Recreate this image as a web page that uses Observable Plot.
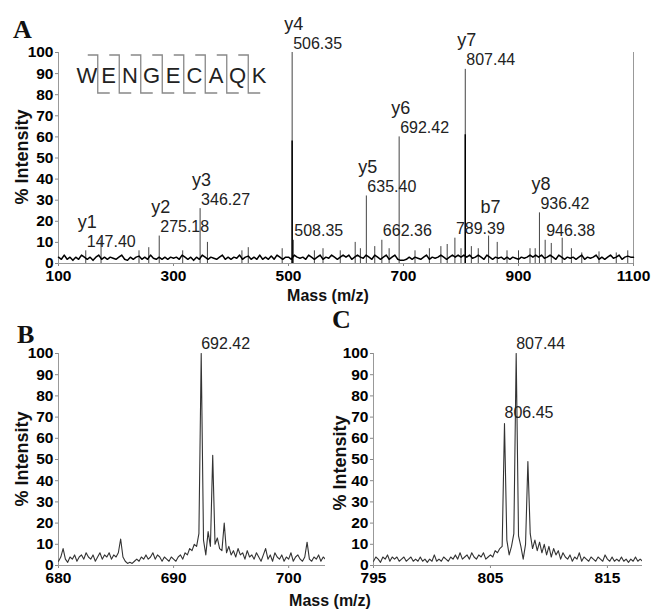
<!DOCTYPE html>
<html><head><meta charset="utf-8">
<script src="https://cdn.jsdelivr.net/npm/d3@7"></script>
<script src="https://cdn.jsdelivr.net/npm/@observablehq/plot@0.6"></script>
<style>
body{margin:0;background:#fff;}
#fig{position:relative;width:653px;height:610px;overflow:hidden;font-family:"Liberation Sans",Arial,sans-serif;}
#fig svg{position:absolute;}
</style></head><body><div id="fig"></div>
<script>
// ---------- Panel A: MS/MS spectrum ----------
const peptide = ["W","E","N","G","E","C","A","Q","K"];
const noiseStartA = 100, noiseStepA = 5;
const noiseA = [
 3,2,4,2,3,1.5,3,2,4,3,2,3,1.5,3,4,2,3,2,3,2.5,
 2,3,4,2,1.5,3,2,3,3.5,2,3,2,4,2.5,2,3,2,3,2,3,
 2.5,3,2,4,3,2,3,1.5,3,2,4,3,2,3,2.5,2,3,4,2,3,
 2,3,2.5,4,2,3,3.5,2,3,2,4,2,3,2,3.5,2,4,3,2,3,
 3,2,4,3,2.5,3,2,4,3,2,3,4,2,3,2.5,4,3,2,3,4,
 3,4,2,3,4,3,2.5,4,3,2,4,3,2,3,4,2,3,4,2,1.5,
 1.5,2,3,2,3,2.5,2,3,4,2,3,2.5,3,4,3,2,3,4,3,4,
 3,4,3,4,2.5,3,4,3,2,4,3,2,3,2.5,3,2,3,2,3,2.5,
 2,3,2.5,3,4,3,4,3,4,2.5,3,4,3,2,4,3,2,3,2.5,3,
 2,3,4,2,3,2.5,3,4,2,3,2,3,4,2.5,3,4,2,3,3.5,3,
 3
];
const peakMassA = [147.40,174,240,257,275.18,316,346.27,359,419,430,489,506.35,508.35,545,560,590,616,625,635.40,650,662.36,675,692.42,720,745,765,776,789.39,800,807.44,818,830,848,863,880,900,920,929,936.42,946.38,957,976,992,1010,1040,1070,1090];
const peakIntA  = [6,11,6,7.5,13,6,26,10,6,7.5,7,100,11,6,7,6,10,7,32,8,11,7,60,6,7,8,9,12,7,92,8,7,13,10,6,6,7,7,24,11,9.5,12,7,5,5.5,5,6];
const coreMassA = [506.35,807.44];
const coreIntA  = [58,61];
const massLabelsA = [147.40,275.18,346.27,506.35,508.35,635.40,662.36,692.42,789.39,807.44,936.42,946.38];
const ionNamesA = ["y1","y2","y3","y4","y5","y6","y7","b7","y8"];
const ionMassA  = [147.40,275.18,346.27,506.35,635.40,692.42,807.44,848,936.42];
const xDomainA = [100,1100];
const xTicksA = [100,300,500,700,900,1100];
const yTicks = [0,10,20,30,40,50,60,70,80,90,100];

// ---------- Panel B: zoom on 692.42 ----------
const startB = 680.0, stepB = 0.2;
const intB = [
 2,4,8,3,1.5,4,3,5,2,4,5,3,6,4,3,5,2,4,6,3,5,4,6,3,5,
 4,6,12.5,4,2, 1,1.5,1,2,3, 2,4,3,5,3, 4,6,3,5,4, 2,4,3,2,4,
 3,2,4,5,3, 6,5,8,7,10, 9,15,100,12,5, 16,9,52,10,13, 8,7,20,6,9,
 5,7,4,8,5, 6,3,7,4,5, 3,6,4,2,5, 8,3,5,2,6, 4,3,5,2,4,
 3,6,2,4,5, 3,2,4,11,3, 2,4,3,5,2, 4,3
];
const labelB = [692.42];
const xDomainB = [680,703.2];
const xTicksB = [680,690,700];

// ---------- Panel C: zoom on 807.44 ----------
const startC = 795.0, stepC = 0.2;
const intC = [
 2,4,3,1.5,4, 3,5,2,4,3, 4,2,3,4,2, 3,4,2,3,2, 4,2,3,1.5,3,
 2,5,2,3,2, 4,3,2,4,3, 5,3,6,3,4, 5,3,6,4,3, 5,4,6,3,4, 5,
 4,7,6,8,9,
 67,12,5,9, 15,100,14,9,3, 10,49,15,8,12, 7,11,6,10,5, 9,4,8,5,7,
 3,6,4,3,5, 2,4,3,6,2, 4,3,2,4,3, 2,4,3,2,5, 3,2,4,2,3,
 2,4,2,3,1.5, 3,2,4,2,3, 2
];
const labelC = [807.44, 806.45];
const xDomainC = [795,818];
const xTicksC = [795,805,815];

// ---------- build ----------
const fig = document.getElementById("fig");
const FONT = '"Liberation Sans", Arial, sans-serif';
const baseStyle = {fontFamily: FONT, fontSize: "15.5px", fontWeight: "bold", color: "#000", background: "transparent", overflow: "visible"};
const plainFmt = d => String(d);

function greyAxes(svg) {
  d3.select(svg).selectAll('g[aria-label*="axis"] path, g[aria-label*="axis"] line').attr("stroke", "#888");
  d3.select(svg).selectAll('g.tick line, .domain').attr("stroke", "#888");
}

// Panel A
const noiseDataA = noiseA.map((v, i) => ({mass: noiseStartA + i * noiseStepA, int: v}));
const peaksA = peakMassA.map((m, i) => ({mass: m, int: peakIntA[i]}));
const coresA = coreMassA.map((m, i) => ({mass: m, int: coreIntA[i]}));
const intAt = new Map(peaksA.map(d => [d.mass, d.int]));
const massLabA = massLabelsA.map(m => ({mass: m, int: intAt.get(m), text: m.toFixed(2)}));
const ionLabA = ionNamesA.map((n, i) => ({mass: ionMassA[i], int: intAt.get(ionMassA[i]), text: n}));

const plotA = Plot.plot({
  width: 653, height: 305, marginTop: 52, marginBottom: 42, marginLeft: 58, marginRight: 20,
  style: baseStyle,
  x: {domain: xDomainA, ticks: xTicksA, tickFormat: plainFmt, tickSize: 3, tickPadding: 3, label: null},
  y: {domain: [0, 100], ticks: yTicks, tickFormat: plainFmt, tickSize: 3, tickPadding: 2, label: null},
  marks: [
    Plot.ruleY([0], {stroke: "#999"}),
    Plot.ruleX([xDomainA[0]], {y1: 0, y2: 100, stroke: "#999"}),
    Plot.ruleX([xDomainA[1]], {y1: 0, y2: 100, stroke: "#999"}),
    Plot.ruleX(peaksA, {x: "mass", y1: 0, y2: "int", stroke: "#444", strokeWidth: 1}),
    Plot.ruleX(coresA, {x: "mass", y1: 0, y2: "int", stroke: "#000", strokeWidth: 1.5}),
    Plot.line(noiseDataA, {x: "mass", y: "int", stroke: "#000", strokeWidth: 1.5}),
    Plot.text(massLabA, {x: "mass", y: "int", text: "text", textAnchor: "start", lineAnchor: "bottom", dx: 1, dy: -4, fontSize: 16, fontWeight: "normal", fill: "#222"}),
    Plot.text(ionLabA, {x: "mass", y: "int", text: "text", textAnchor: "start", lineAnchor: "bottom", dx: -8, dy: -23, fontSize: 18, fontWeight: "normal", fill: "#222"})
  ]
});
plotA.style.left = "0px"; plotA.style.top = "0px";
greyAxes(plotA);
fig.appendChild(plotA);

function zoomPanel(start, step, ints, labels, xDomain, xTicks, opts) {
  const data = ints.map((v, i) => ({mass: start + i * step, int: v}));
  const labs = labels.map(m => {
    const near = data.filter(d => Math.abs(d.mass - m) <= 0.5);
    const apex = d3.greatest(near, d => d.int);
    return {mass: apex.mass, int: apex.int, text: m.toFixed(2)};
  });
  const p = Plot.plot({
    width: opts.width, height: 280, marginTop: 43, marginBottom: 25, marginLeft: opts.ml, marginRight: opts.mr,
    style: baseStyle,
    x: {domain: xDomain, ticks: xTicks, tickFormat: plainFmt, tickSize: 3, tickPadding: 3, label: null},
    y: {domain: [0, 100], ticks: yTicks, tickFormat: plainFmt, tickSize: 3, tickPadding: 2, label: null},
    marks: [
      Plot.ruleY([0], {stroke: "#999"}),
      Plot.ruleX([xDomain[0]], {y1: 0, y2: 100, stroke: "#999"}),
      Plot.line(data, {x: "mass", y: "int", stroke: "#333", strokeWidth: 1.1, clip: true}),
      Plot.text(labs, {x: "mass", y: "int", text: "text", textAnchor: "start", lineAnchor: "bottom", dx: 0, dy: -5, fontSize: 16, fontWeight: "normal", fill: "#222"})
    ]
  });
  p.style.left = opts.left + "px"; p.style.top = "310px";
  greyAxes(p);
  fig.appendChild(p);
}
zoomPanel(startB, stepB, intB, labelB, xDomainB, xTicksB, {width: 330, ml: 58, mr: 5, left: 0});
zoomPanel(startC, stepC, intC, labelC, xDomainC, xTicksC, {width: 333, ml: 53, mr: 11, left: 320});

// ---------- overlay: panel letters, axis titles, peptide ----------
const ov = d3.select(fig).append("svg").attr("width", 653).attr("height", 610)
  .style("left", "0px").style("top", "0px").style("pointer-events", "none");
const serif = '"Liberation Serif", "Times New Roman", serif';
[["A", 13, 38], ["B", 17, 343], ["C", 332, 328]].forEach(([t, x, y]) =>
  ov.append("text").attr("x", x).attr("y", y).attr("font-family", serif).attr("font-weight", "bold")
    .attr("font-size", 26).attr("fill", "#111").text(t));
[[22, 157], [22, 459], [340, 463]].forEach(([x, y]) =>
  ov.append("text").attr("transform", `translate(${x},${y}) rotate(-90)`).attr("text-anchor", "middle")
    .attr("dy", "0.35em").attr("font-family", FONT).attr("font-weight", "bold").attr("font-size", 18)
    .attr("fill", "#111").text("% Intensity"));
[[328, 301], [330, 606]].forEach(([x, y]) =>
  ov.append("text").attr("x", x).attr("y", y).attr("text-anchor", "middle").attr("font-family", FONT)
    .attr("font-weight", "bold").attr("font-size", 16).attr("fill", "#111").text("Mass (m/z)"));
// peptide sequence with fragmentation brackets
const pepX0 = 87, pepDX = 21.5;
peptide.forEach((aa, i) =>
  ov.append("text").attr("x", pepX0 + i * pepDX).attr("y", 83).attr("text-anchor", "middle")
    .attr("font-family", FONT).attr("font-size", 22).attr("fill", "#222").text(aa));
for (let i = 0; i < peptide.length - 1; i++) {
  const sx = pepX0 + (i + 0.5) * pepDX;
  ov.append("path").attr("d", `M${sx - 10},55 H${sx} V93 H${sx + 12}`)
    .attr("fill", "none").attr("stroke", "#888").attr("stroke-width", 1.3);
}
</script></body></html>
